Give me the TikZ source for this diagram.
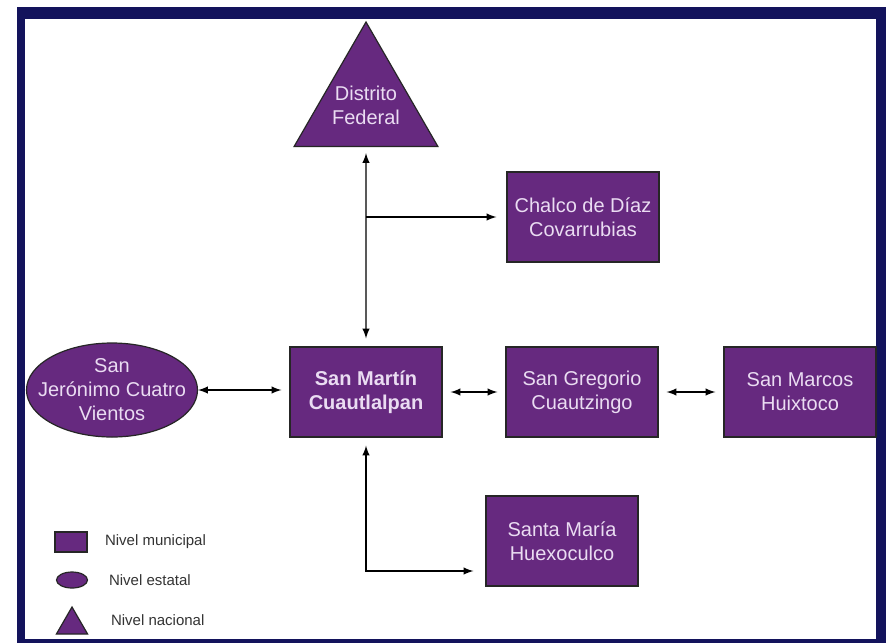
\documentclass[tikz,border=0pt]{standalone}
\usepackage{fontspec}
\setmainfont{Liberation Sans}
\usetikzlibrary{shapes.geometric}
\definecolor{navy}{HTML}{13135C}
\definecolor{nivel}{HTML}{66297F}
\definecolor{nivel-text}{HTML}{EADCF2}
\tikzset{
    municipal-box/.style = {draw=black!85, fill=nivel, text=nivel-text, line width=0.6pt, rectangle, minimum width=76pt, minimum height=45pt, align=center, font=\fontsize{10}{12}\selectfont},
    estatal-oval/.style = {draw=black!85, fill=nivel, text=nivel-text, line width=0.6pt, ellipse, minimum width=85.5pt, minimum height=47pt, inner xsep=-7pt, inner ysep=0pt, align=center, font=\fontsize{10}{12}\selectfont},
    nacional-tri/.style = {draw=black!85, fill=nivel, text=nivel-text, line width=0.6pt, regular polygon, regular polygon sides=3, minimum size=83pt, inner sep=-4pt, align=center, font=\fontsize{10}{12}\selectfont},
    link/.style = {>=latex, line width=0.7pt},
    legend-text/.style = {anchor=west, text=black!80, font=\fontsize{7.5}{9}\selectfont},
}

\begin{document}
\begin{tikzpicture}[x=0.5pt, y=-0.5pt]
\useasboundingbox (0,0) rectangle (886,643);
% frame
\fill[navy] (17,7) rectangle (886,643);
\fill[white] (25,19) rectangle (876,639);

% levels
\node[nacional-tri] (df) at (366,105) {Distrito\\Federal};
\node[municipal-box] (ch) at (583,217) {Chalco de Díaz\\Covarrubias};
\node[estatal-oval] (sj) at (112,390) {San\\Jerónimo Cuatro\\Vientos};
\node[municipal-box, font=\fontsize{10}{12}\selectfont\bfseries] (sm) at (366,392) {San Martín\\Cuautlalpan};
\node[municipal-box] (sg) at (582,392) {San Gregorio\\Cuautzingo};
\node[municipal-box] (smx) at (800,392) {San Marcos\\Huixtoco};
\node[municipal-box] (sta) at (562,541) {Santa María\\Huexoculco};

% connections
\draw[link, <->, shorten <=3pt, shorten >=4pt] (df.south) -- (sm.north);
\draw[link, ->, shorten >=5pt] (df.south |- ch.west) -- (ch.west);
\draw[link, <->, shorten >=4pt] (sj.east) -- (sm.west |- sj.east);
\draw[link, <->, shorten <=4pt, shorten >=4pt] (sm.east) -- (sg.west);
\draw[link, <->, shorten <=4pt, shorten >=4pt] (sg.east) -- (smx.west);
\draw[link, <->, shorten <=4pt, shorten >=6pt] (sm.south) |- ([yshift=-15pt]sta.west);

% legend
\node[municipal-box, minimum width=16pt, minimum height=10pt, inner sep=0pt] (lm) at (71,542) {};
\node[estatal-oval, minimum width=15.5pt, minimum height=8pt, inner sep=0pt] (le) at (72,580) {};
\node[nacional-tri, minimum size=18pt, inner sep=0pt] (ln) at (72,625) {};
\node[legend-text] at (98,542) {Nivel municipal};
\node[legend-text] at (102,580) {Nivel estatal};
\node[legend-text] at (104,620) {Nivel nacional};
\end{tikzpicture}
\end{document}
